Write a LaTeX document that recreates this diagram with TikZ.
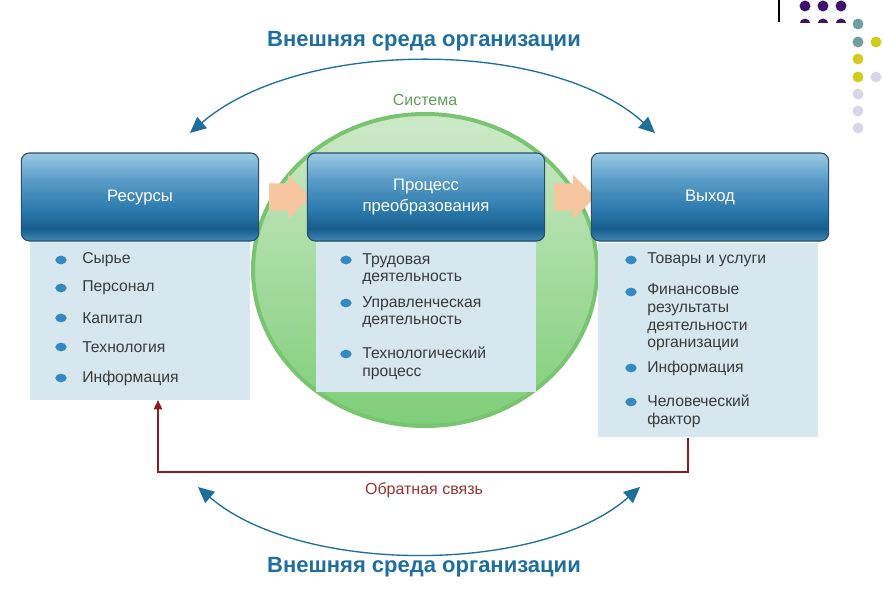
\documentclass[tikz,border=0pt]{standalone}
\usepackage{fontspec}
\setmainfont{Liberation Sans}
\usepackage{xcolor}
\usetikzlibrary{positioning}
\usetikzlibrary{shapes.geometric,shapes.arrows,arrows.meta}
\definecolor{htop}{HTML}{9CCBE3}
\definecolor{hmidtwo}{HTML}{5A9CC8}
\definecolor{hmid}{HTML}{2A78AC}
\definecolor{hdark}{HTML}{175C8B}
\definecolor{hbot}{HTML}{3F88B8}
\definecolor{headline}{HTML}{2B4E66}
\definecolor{panelfill}{HTML}{D6E7EF}
\definecolor{sysgreen}{HTML}{7ECE78}
\definecolor{syslight}{HTML}{CDE9C8}
\definecolor{sysedge}{HTML}{78C471}
\definecolor{envblue}{HTML}{1F6F9C}
\definecolor{fbred}{HTML}{8E1C1C}
\definecolor{peach}{HTML}{F6C6A0}
\definecolor{bulblue}{HTML}{3389C2}
\definecolor{itemgray}{HTML}{3A3A3A}
\definecolor{dotpurple}{HTML}{3D1170}
\definecolor{dotteal}{HTML}{6E9E9E}
\definecolor{dotyellow}{HTML}{CFCC1E}
\definecolor{dotlav}{HTML}{D6D6E6}
\pgfdeclareverticalshading{headshade}{100bp}{color(0bp)=(hbot); color(25bp)=(hbot);
  color(32bp)=(hdark); color(42bp)=(hmid); color(60bp)=(hmidtwo); color(75bp)=(htop); color(100bp)=(htop)}

\begin{document}
\begin{tikzpicture}[x=0.75pt, y=-0.75pt,
  head/.style = {draw=headline, line width=0.8pt, rounded corners=6pt, shading=headshade,
    minimum width=178pt, minimum height=66pt, text=white, align=center,
    font=\fontsize{12.5}{15.5}\selectfont},
  panel/.style = {fill=panelfill, minimum width=165pt},
  item/.style = {anchor=west, inner sep=0pt, align=left, text=itemgray,
    font=\fontsize{11.8}{13.2}\selectfont},
  bul/.style = {ellipse, fill=bulblue, inner sep=0pt, minimum width=8.5pt, minimum height=6.5pt},
  flow/.style = {single arrow, fill=peach, inner sep=10pt, minimum height=31pt,
    single arrow head extend=6.5pt},
  envarc/.style = {envblue, line width=1pt,
    {Triangle[length=12pt, width=11pt]}-{Triangle[length=12pt, width=11pt]}},
  envtext/.style = {text=envblue, font=\fontsize{16.5}{18}\bfseries},
  fbline/.style = {fbred, line width=1.6pt, -{Triangle[length=7pt, width=6pt]}}
]
\useasboundingbox (0,0) rectangle (883,589);

% system
\node[ellipse, draw=sysedge, line width=3pt, top color=syslight, bottom color=sysgreen,
  minimum width=258pt, minimum height=234pt] (sys) at (425,270) {};
\node[text=sysedge!80!black, font=\fontsize{12}{14}\selectfont, above=1pt of sys] (systxt) {Система};

% panels
\node[panel, minimum height=118pt] (pres) at (140,321) {};
\node[panel, minimum height=112pt] (pproc) at (426,317) {};
\node[panel, minimum height=146pt] (pout) at (708,340) {};

\node[flow] (f1) at (283,197) {};
\node[flow] (f2) at (568,197) {};

\node[head] (res) at (140,197) {Ресурсы};
\node[head] (proc) at (426,197) {Процесс\\преобразования};
\node[head] (out) at (710,197) {Выход};

% items
\foreach \y/\txt in {260/Сырье, 288/Персонал, 318/Капитал, 347/Технология, 378/Информация}
  \node[bul] (rb\y) at (61,\y) {} node[item] (ri\y) at (82,\y) {\txt};

\node[bul] (pb1) at (346,260) {};
\node[item] (pi1) at (362,269) {Трудовая\\деятельность};
\node[bul] (pb2) at (346,303) {};
\node[item] (pi2) at (362,312) {Управленческая\\деятельность};
\node[bul] (pb3) at (346,354) {};
\node[item] (pi3) at (362,363) {Технологический\\процесс};

\node[bul] (ob1) at (631,260) {};
\node[item] (oi1) at (647,260) {Товары и услуги};
\node[bul] (ob2) at (631,292) {};
\node[item] (oi2) at (647,317.5) {Финансовые\\результаты\\деятельности\\организации};
\node[bul] (ob3) at (631,368) {};
\node[item] (oi3) at (647,368) {Информация};
\node[bul] (ob4) at (631,402) {};
\node[item] (oi4) at (647,411) {Человеческий\\фактор};

% environment
\coordinate (envTL) at (190,133);
\coordinate (envTR) at (655,133);
\draw[envarc] (envTL) .. controls (300,38) and (550,38) .. (envTR);
\node[envtext] (envtop) at (424,41) {Внешняя среда организации};

\coordinate (envBL) at (198,487);
\coordinate (envBR) at (640,487);
\draw[envarc] (envBL) .. controls (300,575) and (540,575) .. (envBR);
\node[envtext] (envbot) at (424,567) {Внешняя среда организации};

% feedback
\draw[fbline] ([xshift=-15pt]pout.south) -- ++(0,34) -| ([xshift=13.5pt]pres.south);
\node[text=fbred!90!white, font=\fontsize{12}{14}\selectfont] (fb) at (424,490) {Обратная связь};

% corner marks
\draw[line width=0.8pt] (779,0) -- (779,22);
\foreach \x in {805,823,841} \fill[dotpurple] (\x,6) circle (4.1pt);
\begin{scope}
  \clip (795,15) rectangle (850,22);
  \foreach \x in {805,823,841} \fill[dotpurple] (\x,24) circle (4.1pt);
\end{scope}
\foreach \y in {24,42} \fill[dotteal] (858,\y) circle (4.1pt);
\foreach \p in {(876,42),(858,59),(858,77)} \fill[dotyellow] \p circle (4.1pt);
\foreach \p in {(876,77),(858,94),(858,111),(858,128)} \fill[dotlav] \p circle (4.1pt);
\end{tikzpicture}
\end{document}
